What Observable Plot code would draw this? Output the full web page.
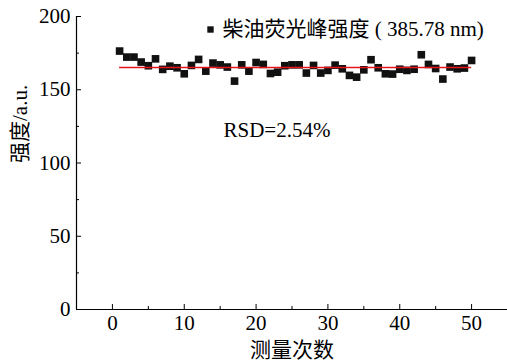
<!DOCTYPE html>
<html>
<head>
<meta charset="utf-8">
<script src="https://cdn.jsdelivr.net/npm/d3@7"></script>
<script src="https://cdn.jsdelivr.net/npm/@observablehq/plot@0.6"></script>
<style>
  html, body { margin: 0; padding: 0; background: #fff; }
  #chart svg, #chart svg text { font-family: "Liberation Serif", "Noto Sans CJK SC", serif !important; }
</style>
</head>
<body>
<div id="chart"></div>
<script>
const runs = d3.range(1, 51);
const intensity = [
  176.4, 172.3, 172.3, 168.9, 166.4, 171.1, 163.9, 166.1, 165.0, 160.9,
  166.6, 170.7, 162.7, 168.2, 167.0, 165.5, 155.9, 167.0, 162.7, 168.6,
  167.3, 161.1, 162.0, 166.4, 167.0, 167.0, 161.4, 166.6, 161.4, 163.2,
  166.8, 164.3, 159.8, 158.6, 163.6, 170.5, 165.0, 160.9, 160.7, 164.0,
  163.2, 164.0, 173.9, 167.3, 164.5, 157.3, 165.5, 164.3, 164.8, 170.0
];
const meanValue = [165.2];
const meanSpan = [1, 50];
const xMajor = [0, 10, 20, 30, 40, 50];
const xMinor = [5, 15, 25, 35, 45];
const yMajor = [0, 50, 100, 150, 200];
const yMinor = [25, 75, 125, 175];
const legendLabel = "柴油荧光峰强度 ( 385.78 nm)";
const rsdLabel = "RSD=2.54%";
const xLabel = "测量次数";
const yLabel = "强度/a.u.";

const data = runs.map((r, i) => ({run: r, value: intensity[i]}));
const font = "Liberation Serif, Noto Sans CJK SC, serif";

const chart = Plot.plot({
  width: 507,
  height: 363,
  marginLeft: 76,
  marginRight: 0,
  marginTop: 16,
  marginBottom: 54,
  style: {fontSize: "21px", background: "#fff"},
  x: {domain: [-5, 55]},
  y: {domain: [0, 200]},
  marks: [
    Plot.ruleX([-5], {stroke: "#000", strokeWidth: 1.2}),
    Plot.ruleY([0], {stroke: "#000", strokeWidth: 1.2}),
    Plot.axisX({ticks: xMajor, tickSize: -5, tickPadding: 11, tickFormat: d => d, label: null, fontSize: 21, fontFamily: font}),
    Plot.axisX({ticks: xMinor, tickSize: -3, tickFormat: () => "", label: null}),
    Plot.axisY({ticks: yMajor, tickSize: -5, tickPadding: 11, tickFormat: d => d, label: null, fontSize: 21, fontFamily: font}),
    Plot.axisY({ticks: yMinor, tickSize: -3, tickFormat: () => "", label: null}),
    Plot.dot(data, {x: "run", y: "value", symbol: "square", r: 4.3, fill: "#111"}),
    Plot.ruleY(meanValue, {x1: meanSpan[0], x2: meanSpan[1], stroke: "#e8141c", strokeWidth: 1.3}),
    Plot.dot([legendLabel], {frameAnchor: "top-left", dx: 134, dy: 13, symbol: "square", r: 3.6, fill: "#111"}),
    Plot.text([legendLabel], {frameAnchor: "top-left", dx: 146, dy: 13, text: d => d, textAnchor: "start", lineAnchor: "middle", fontSize: 21, fontFamily: font, fill: "#000"}),
    Plot.text([rsdLabel], {frameAnchor: "top-left", dx: 147, dy: 114, text: d => d, textAnchor: "start", lineAnchor: "middle", fontSize: 21, fontFamily: font, fill: "#000"}),
    Plot.text([xLabel], {frameAnchor: "bottom", dy: 41, text: d => d, lineAnchor: "middle", fontSize: 21, fontFamily: font, fill: "#000"}),
    Plot.text([yLabel], {frameAnchor: "left", dx: -56, rotate: -90, text: d => d, lineAnchor: "middle", fontSize: 21, fontFamily: font, fill: "#000"})
  ]
});
document.getElementById("chart").appendChild(chart);
</script>
</body>
</html>
